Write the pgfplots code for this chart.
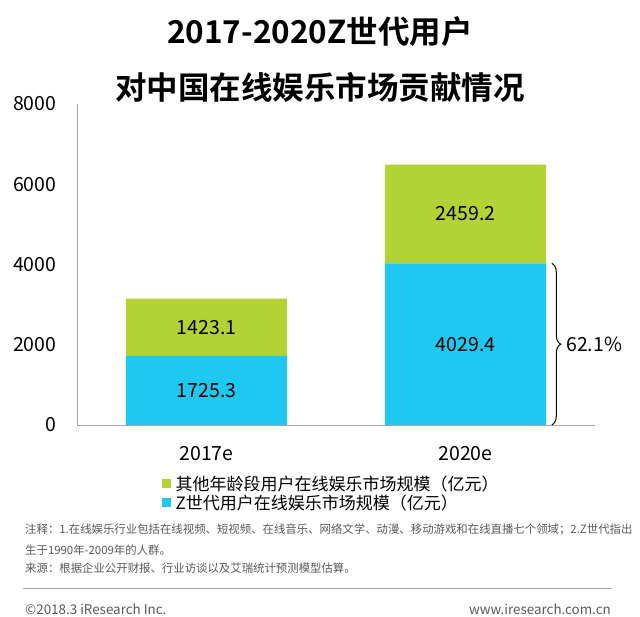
\documentclass[border=0pt]{standalone}
\usepackage{pgfplots}
\pgfplotsset{compat=1.18}
\usepackage{fontspec}
\setmainfont{Noto Sans CJK SC}[BoldFont={Noto Sans CJK SC Bold}]
\usetikzlibrary{decorations.pathreplacing}
\definecolor{zgreen}{HTML}{B3D233}
\definecolor{zblue}{HTML}{1FC8F0}
\definecolor{axgray}{HTML}{A6A6A6}
\definecolor{notegray}{HTML}{595959}
\begin{document}
\begin{tikzpicture}[x=1pt,y=1pt]
\path[use as bounding box] (0,0) rectangle (640,616);
% title
\node[font=\fontsize{31.5}{34}\selectfont\bfseries] at (320,616-32) {2017-2020Z世代用户};
\node[font=\fontsize{31.5}{34}\selectfont\bfseries] at (320,616-87) {对中国在线娱乐市场贡献情况};
\begin{axis}[
  at={(77pt,191pt)}, anchor=south west,
  scale only axis, width=518pt, height=321pt,
  ybar stacked, bar width=161pt,
  xmin=-0.5, xmax=1.5, ymin=0, ymax=8000,
  xtick={0,1}, xticklabels={2017e,2020e},
  ytick={0,2000,4000,6000,8000},
  axis x line=bottom, axis y line=left,
  axis line style={axgray, line width=0.8pt, -},
  major tick length=0pt,
  tick label style={font=\fontsize{19.5}{21}\selectfont},
  /pgf/number format/assume math mode=true,
  /pgf/number format/1000 sep={},
  yticklabel style={xshift=-17pt},
  xticklabel style={yshift=-18pt},
  reverse legend,
  legend style={at={(0.164,-0.152)}, anchor=north west, draw=none, fill=none,
    font=\fontsize{17}{19}\selectfont, row sep=0pt, inner sep=0pt,
    nodes={inner sep=1.5pt}},
  legend cell align=left,
  clip=false,
]
\addplot[fill=zblue, draw=none, legend image code/.code={\fill[zblue] (0pt,-4.5pt) rectangle (9pt,4.5pt); \path (12pt,0pt);}] coordinates {(0,1725.3) (1,4029.4)};
\addlegendentry{Z世代用户在线娱乐市场规模（亿元）}
\addplot[fill=zgreen, draw=none, legend image code/.code={\fill[zgreen] (0pt,-4.5pt) rectangle (9pt,4.5pt); \path (12pt,0pt);}] coordinates {(0,1423.1) (1,2459.2)};
\addlegendentry{其他年龄段用户在线娱乐市场规模（亿元）}
\coordinate (l1) at (axis cs:0,862.65);
\coordinate (l2) at (axis cs:0,2436.85);
\coordinate (l3) at (axis cs:1,2014.7);
\coordinate (l4) at (axis cs:1,5259);
\coordinate (bt) at (axis cs:1.31,4029.4);
\coordinate (bb) at (axis cs:1.31,0);
\coordinate (bm) at (axis cs:1.31,2014.7);
\end{axis}
\begin{scope}[every node/.style={font=\fontsize{19.5}{21}\selectfont}]
\node at (l1) {1725.3};
\node at (l2) {1423.1};
\node at (l3) {4029.4};
\node at (l4) {2459.2};
\node[anchor=west] at ([xshift=17pt]bm) {62.1\%};
\end{scope}
\draw[decorate, decoration={brace, amplitude=9pt}, line width=1pt]
  ([xshift=6pt]bt) -- ([xshift=6pt]bb);
% notes
\begin{scope}[every node/.style={anchor=west, text=notegray, font=\fontsize{11.4}{13}\selectfont, inner sep=0pt}]
\node at (25,616-530) {注释：1.在线娱乐行业包括在线视频、短视频、在线音乐、网络文学、动漫、移动游戏和在线直播七个领域；2.Z世代指出};
\node at (25,616-550) {生于1990年-2009年的人群。};
\node at (25,616-568) {来源：根据企业公开财报、行业访谈以及艾瑞统计预测模型估算。};
\end{scope}
\draw[axgray, line width=0.8pt] (23,616-588) -- (612,616-588);
\node[anchor=west, text=notegray, font=\fontsize{13.4}{15}\selectfont, inner sep=0pt] at (25,616-609) {©2018.3 iResearch Inc.};
\node[anchor=east, text=notegray, font=\fontsize{13.4}{15}\selectfont, inner sep=0pt] at (611,616-609) {www.iresearch.com.cn};
\end{tikzpicture}
\end{document}
